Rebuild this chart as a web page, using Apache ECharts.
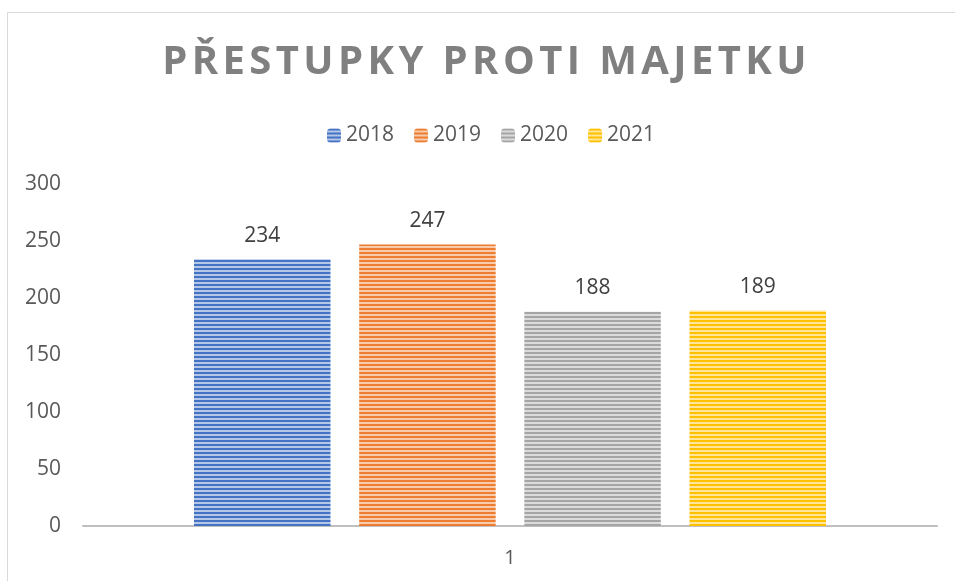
<!DOCTYPE html>
<html>
<head>
<meta charset="utf-8">
<script src="https://cdn.jsdelivr.net/npm/echarts@6/dist/echarts.min.js"></script>
<style>
  html, body { margin: 0; padding: 0; background: #fff; }
  #chart { width: 955px; height: 581px; }
</style>
</head>
<body>
<div id="chart"></div>
<script>
const titleText = 'PŘESTUPKY PROTI MAJETKU';
const categories = ['1'];
const years = ['2018', '2019', '2020', '2021'];
const values = [234, 247, 188, 189];
const colors = ['#4472C4', '#ED7D31', '#A5A5A5', '#FFC000'];
const lightColors = ['#B4C7E7', '#F8CBAD', '#DBDBDB', '#FFE699'];

// horizontal stripes like the office pattern fill
function stripes(dark, light) {
  const c = document.createElement('canvas');
  c.width = 4; c.height = 4;
  const ctx = c.getContext('2d');
  ctx.fillStyle = light;
  ctx.fillRect(0, 0, 4, 4);
  ctx.fillStyle = dark;
  ctx.fillRect(0, 0, 4, 2);
  return { image: c, repeat: 'repeat' };
}

// spaced-out title: one rich token per letter
const spacedTitle = titleText.split('').map(ch => '{s|' + ch + '}').join('');

const chart = echarts.init(document.getElementById('chart'));

const series = years.map((y, i) => ({
  name: y,
  type: 'bar',
  data: [values[i]],
  barGap: '21%',
  barCategoryGap: '26%',
  itemStyle: { color: stripes(colors[i], lightColors[i]) },
  label: {
    show: true,
    position: 'top',
    distance: 13,
    fontSize: 21,
    color: '#404040',
    fontFamily: 'Open Sans'
  }
}));

chart.setOption({
  backgroundColor: '#fff',
  title: {
    text: spacedTitle,
    left: 160,
    top: 38,
    padding: [5, 0, 5, 0],
    textStyle: {
      rich: {
        s: {
          fontSize: 40,
          fontWeight: 'bold',
          color: '#808080',
          fontFamily: 'Open Sans',
          padding: [0, 2.2, 0, 2.2]
        }
      }
    }
  },
  legend: {
    top: 120,
    left: 327,
    padding: [5, 0, 5, 0],
    itemWidth: 14,
    itemHeight: 14,
    itemGap: 20,
    textStyle: { fontSize: 21, color: '#595959', fontFamily: 'Open Sans' }
  },
  grid: { left: 83, right: 18, top: 184, bottom: 55 },
  xAxis: {
    type: 'category',
    data: categories,
    axisLine: { lineStyle: { color: '#BFBFBF', width: 2 } },
    axisTick: { show: false },
    axisLabel: { fontSize: 20, color: '#595959', margin: 22, fontFamily: 'Open Sans' }
  },
  yAxis: {
    type: 'value',
    min: 0,
    max: 300,
    interval: 50,
    splitLine: { show: false },
    axisLine: { show: false },
    axisTick: { show: false },
    axisLabel: { fontSize: 21, color: '#595959', margin: 22, fontFamily: 'Open Sans' }
  },
  graphic: [{
    type: 'rect',
    shape: { x: 7.5, y: 12.5, width: 960, height: 580 },
    style: { fill: 'none', stroke: '#D9D9D9', lineWidth: 1 },
    silent: true
  }],
  series: series
});
</script>
</body>
</html>
